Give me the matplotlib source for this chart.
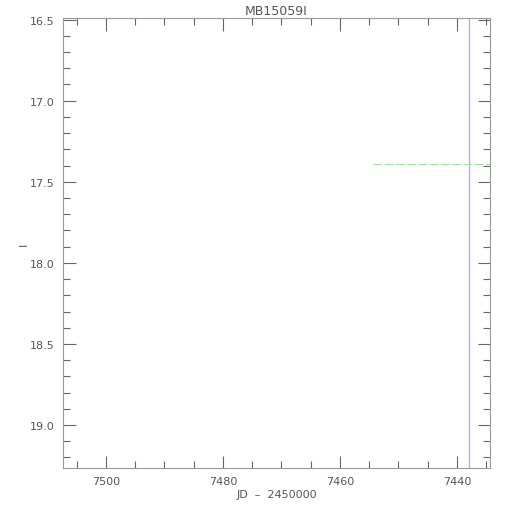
import matplotlib
matplotlib.use("Agg")
import matplotlib.pyplot as plt
from matplotlib.ticker import MultipleLocator

# data
title = "MB15059I"
x_range = [7507.35, 7434.35]
y_range = [16.49, 19.265]
vline_jd = [7437.95]
hline_mag = [17.39]
hline_jd = [7454.4, 7434.35]

grey = "#666666"

fig = plt.figure(figsize=(5.1, 5.1), dpi=100)
ax = fig.add_axes([63 / 510, 41 / 510, 427 / 510, 450 / 510])

for x in vline_jd:
    ax.axvline(x, color="#aab2ee", lw=1.0)
ax.plot(hline_jd, [hline_mag[0], hline_mag[0]], color="#a8e0a8", lw=0.9, ls=(0, (7, 2)))

ax.set_xlim(x_range)
ax.set_ylim(y_range[1], y_range[0])

ax.xaxis.set_major_locator(MultipleLocator(20))
ax.xaxis.set_minor_locator(MultipleLocator(5))
ax.yaxis.set_major_locator(MultipleLocator(0.5))
ax.yaxis.set_minor_locator(MultipleLocator(0.1))
ax.yaxis.set_major_formatter(plt.FormatStrFormatter("%.1f"))

ax.tick_params(which="both", direction="in", top=True, right=True, colors=grey,
               labelsize=8, labelcolor="#555555", width=0.8)
ax.tick_params(which="major", length=9, pad=6)
ax.tick_params(which="minor", length=5)
for s in ax.spines.values():
    s.set_color("#999999")
    s.set_linewidth(0.8)

ax.set_title(title, fontsize=9, color="#555555", pad=3)
ax.set_xlabel("JD  –  2450000", fontsize=8, color="#555555", labelpad=2)
ax.set_ylabel("I", fontsize=8, color="#555555")
ax.yaxis.set_label_coords(-0.08, 0.5)

fig.savefig("out.png", dpi=100)
